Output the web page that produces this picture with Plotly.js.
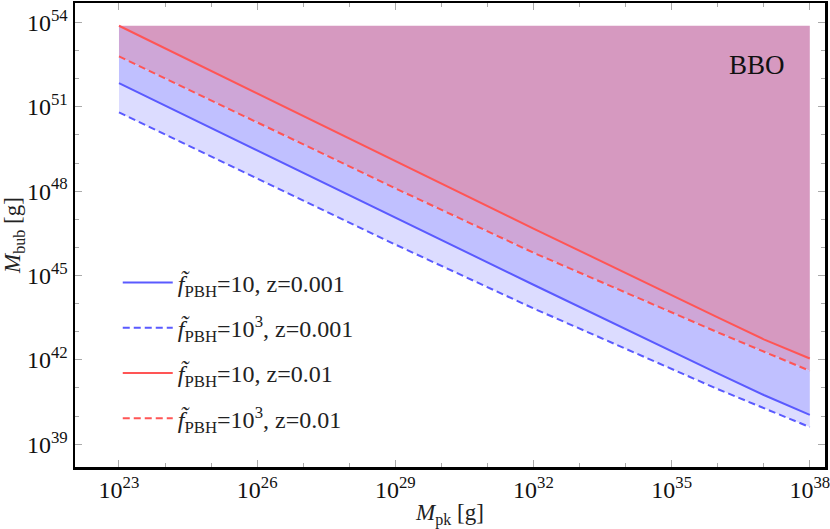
<!DOCTYPE html>
<html>
<head>
<meta charset="utf-8">
<script src="https://cdn.plot.ly/plotly-3.0.1.min.js"></script>
<style>html,body{margin:0;padding:0;background:#fff;}#chart{width:830px;height:529px;}</style>
</head>
<body>
<div id="chart"></div>
<script>
// M_pk [g] sample points
const xSolid  = [1e23, 1e29, 1e32, 1e36, 1e37, 1e38];
const xDashed = [1e23, 1e29, 1e32, 1e36, 1e38];
// M_bub [g]
const redSolid   = [7.59e53, 1.17e49, 4.68e46, 3.24e43, 5.37e42, 1.12e42]; // f=10, z=0.01
const redDashed  = [6.17e52, 1.26e48, 6.46e45, 9.55e42, 4.07e41];          // f=10^3, z=0.01
const blueSolid  = [6.92e51, 1.17e47, 4.68e44, 3.31e41, 5.62e40, 1.11e40]; // f=10, z=0.001
const blueDashed = [6.31e50, 1.26e46, 6.76e43, 9.12e40, 4.07e39];          // f=10^3, z=0.001
// BBO region upper edge
const bboX = [1e23, 1e38];
const bboTop = [7.59e53, 7.59e53];

const legendNames = [
  "<i>f̃</i><sub>PBH</sub>=10, z=0.001",
  "<i>f̃</i><sub>PBH</sub>=10<sup>3</sup>, z=0.001",
  "<i>f̃</i><sub>PBH</sub>=10, z=0.01",
  "<i>f̃</i><sub>PBH</sub>=10<sup>3</sup>, z=0.01"
];

const xTickVals = [1e23, 1e26, 1e29, 1e32, 1e35, 1e38];
const xTickText = ["10<sup>23</sup>","10<sup>26</sup>","10<sup>29</sup>","10<sup>32</sup>","10<sup>35</sup>","10<sup>38</sup>"];
const yTickVals = [1e39, 1e42, 1e45, 1e48, 1e51, 1e54];
const yTickText = ["10<sup>39</sup>","10<sup>42</sup>","10<sup>45</sup>","10<sup>48</sup>","10<sup>51</sup>","10<sup>54</sup>"];
const xMinor = [1e22,1e24,1e25,1e27,1e28,1e30,1e31,1e33,1e34,1e36,1e37];
const yMinor = [1e38,1e40,1e41,1e43,1e44,1e46,1e47,1e49,1e50,1e52,1e53];

const BLUE = "rgb(90,90,255)";
const RED = "rgb(255,85,85)";

const traces = [
  {x:xDashed, y:blueDashed, mode:"lines", line:{width:0}, showlegend:false, hoverinfo:"skip"},
  {x:xSolid, y:blueSolid, mode:"lines", line:{width:0}, fill:"tonexty", fillcolor:"#dcdcff", showlegend:false, hoverinfo:"skip"},
  {x:xDashed, y:redDashed, mode:"lines", line:{width:0}, fill:"tonexty", fillcolor:"#c0c0ff", showlegend:false, hoverinfo:"skip"},
  {x:xSolid, y:redSolid, mode:"lines", line:{width:0}, fill:"tonexty", fillcolor:"#cea6d7", showlegend:false, hoverinfo:"skip"},
  {x:bboX, y:bboTop, mode:"lines", line:{width:0}, fill:"tonexty", fillcolor:"#d699c0", showlegend:false, hoverinfo:"skip"},
  {x:xSolid, y:blueSolid, mode:"lines", name:legendNames[0], line:{color:BLUE, width:2}, legendgroup:"a"},
  {x:xDashed, y:blueDashed, mode:"lines", name:legendNames[1], line:{color:BLUE, width:2, dash:"7px,4px"}, legendgroup:"b"},
  {x:xSolid, y:redSolid, mode:"lines", name:legendNames[2], line:{color:RED, width:2}, legendgroup:"c"},
  {x:xDashed, y:redDashed, mode:"lines", name:legendNames[3], line:{color:RED, width:2, dash:"7px,4px"}, legendgroup:"d"}
];

const FONT = "Liberation Serif";
const axisCommon = {
  type:"log", showgrid:false, zeroline:false,
  showline:true, linecolor:"#000", linewidth:2.5, mirror:"ticks",
  ticks:"inside", ticklen:7, tickwidth:1, tickcolor:"#aaa",
  tickmode:"array", ticklabeloverflow:"allow",
  tickfont:{family:FONT, size:24, color:"#111"},
};

const layout = {
  width:830, height:529,
  margin:{l:75, r:5, t:3, b:62},
  paper_bgcolor:"#fff", plot_bgcolor:"#fff",
  font:{family:FONT, color:"#000"},
  showlegend:true,
  legend:{x:0.057, y:0.445, xanchor:"left", yanchor:"top", bgcolor:"rgba(0,0,0,0)",
          font:{family:FONT, size:24, color:"#222"}, traceorder:"grouped", tracegroupgap:11, itemwidth:50},
  xaxis: Object.assign({}, axisCommon, {
    range:[22.045, 38.33], tickvals:xTickVals, ticktext:xTickText,
    minor:{tickmode:"array", tickvals:xMinor, ticks:"inside", ticklen:4, tickcolor:"#aaa", tickwidth:1},
    title:{text:"<i>M</i><sub>pk</sub> [g]", font:{family:FONT, size:23, color:"#222"}, standoff:8}
  }),
  yaxis: Object.assign({}, axisCommon, {
    range:[38.19, 54.69], tickvals:yTickVals, ticktext:yTickText,
    minor:{tickmode:"array", tickvals:yMinor, ticks:"inside", ticklen:4, tickcolor:"#aaa", tickwidth:1},
    title:{text:"<i>M</i><sub>bub</sub> [g]", font:{family:FONT, size:23, color:"#222"}, standoff:2}
  }),
  annotations:[{xref:"x", yref:"y", x:36.85, y:52.49, text:"BBO", showarrow:false,
    font:{family:FONT, size:27, color:"#111"}}]
};

Plotly.newPlot("chart", traces, layout, {displayModeBar:false, staticPlot:true});
</script>
</body>
</html>
